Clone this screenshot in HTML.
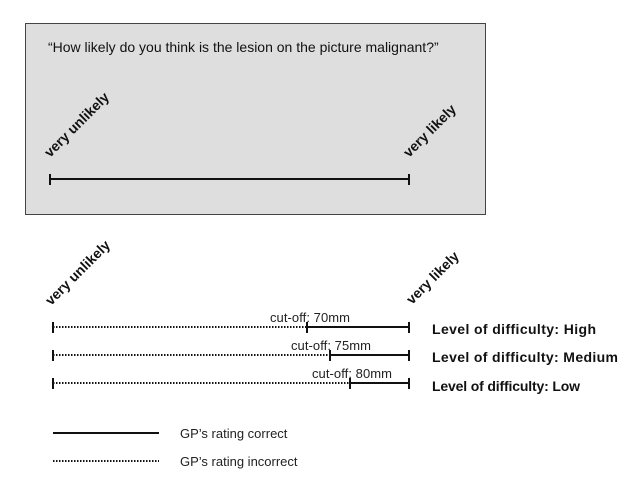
<!DOCTYPE html>
<html><head><meta charset="utf-8"><style>body{margin:0;background:#fff}svg{display:block}</style></head>
<body>
<svg width="640" height="490" xmlns="http://www.w3.org/2000/svg" font-family="Liberation Sans, Arial, sans-serif">
<rect x="25.5" y="23.5" width="460" height="191" fill="#dedede" stroke="#444" stroke-width="1"/>
<text x="48" y="52" font-size="14" fill="#111">“How likely do you think is the lesion on the picture malignant?”</text>
<text transform="translate(50,158) rotate(-45)" font-size="14" font-weight="bold" fill="#111">very unlikely</text>
<text transform="translate(409,158) rotate(-45)" font-size="14" font-weight="bold" fill="#111">very likely</text>
<g stroke="#111" stroke-width="2">
<line x1="50" y1="179" x2="409" y2="179"/>
<line x1="50" y1="174" x2="50" y2="185"/>
<line x1="409" y1="174" x2="409" y2="185"/>
</g>
<text transform="translate(51,306) rotate(-45)" font-size="14" font-weight="bold" fill="#111">very unlikely</text>
<text transform="translate(412,305) rotate(-45)" font-size="14" font-weight="bold" fill="#111">very likely</text>
<g stroke="#111">
<line x1="53" y1="322" x2="53" y2="333" stroke-width="2"/>
<line x1="53" y1="327" x2="307" y2="327" stroke-width="2" stroke-dasharray="1.5,1.5"/>
<line x1="307" y1="322" x2="307" y2="333" stroke-width="2"/>
<line x1="307" y1="327" x2="409" y2="327" stroke-width="2"/>
<line x1="409" y1="322" x2="409" y2="333" stroke-width="2"/>
<line x1="53" y1="350" x2="53" y2="361" stroke-width="2"/>
<line x1="53" y1="355" x2="330" y2="355" stroke-width="2" stroke-dasharray="1.5,1.5"/>
<line x1="330" y1="350" x2="330" y2="361" stroke-width="2"/>
<line x1="330" y1="355" x2="409" y2="355" stroke-width="2"/>
<line x1="409" y1="350" x2="409" y2="361" stroke-width="2"/>
<line x1="53" y1="378" x2="53" y2="389" stroke-width="2"/>
<line x1="53" y1="383" x2="350" y2="383" stroke-width="2" stroke-dasharray="1.5,1.5"/>
<line x1="350" y1="378" x2="350" y2="389" stroke-width="2"/>
<line x1="350" y1="383" x2="409" y2="383" stroke-width="2"/>
<line x1="409" y1="378" x2="409" y2="389" stroke-width="2"/>
</g>
<g font-size="13" fill="#222">
<text x="270" y="322" textLength="80">cut-off: 70mm</text>
<text x="291" y="350" textLength="80">cut-off: 75mm</text>
<text x="312" y="378" textLength="80">cut-off: 80mm</text>
</g>
<g font-size="14" font-weight="bold" fill="#111">
<text x="432" y="334" textLength="164">Level  of difficulty: High</text>
<text x="432" y="362" textLength="186">Level  of difficulty: Medium</text>
<text x="432" y="391" textLength="148">Level  of difficulty: Low</text>
</g>
<line x1="53" y1="433" x2="159" y2="433" stroke="#111" stroke-width="2"/>
<line x1="53" y1="461" x2="159" y2="461" stroke="#111" stroke-width="2" stroke-dasharray="1.5,1.5"/>
<g font-size="13" fill="#222">
<text x="180" y="438">GP’s rating correct</text>
<text x="180" y="466">GP’s rating incorrect</text>
</g>
</svg>
</body></html>
